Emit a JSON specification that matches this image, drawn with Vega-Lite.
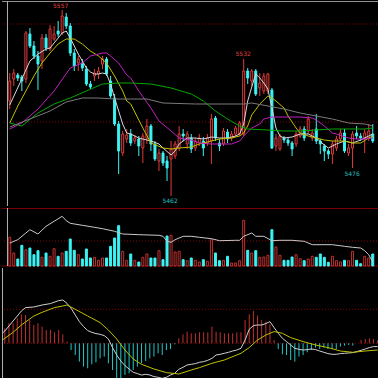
{
"$schema":"https://vega.github.io/schema/vega-lite/v6.json",
"background":"black",
"padding":0,
"spacing":0,
"config":{"view":{"stroke":null},"concat":{"spacing":0}},
"datasets":{
"k":[
{"i":0,"o":5509.5,"c":5519.5,"h":5523.5,"l":5505.5,"v":28.7},
{"i":1,"o":5520.5,"c":5523.5,"h":5525.5,"l":5517,"v":13},
{"i":2,"o":5522.5,"c":5521,"h":5523.5,"l":5519.5,"v":7},
{"i":3,"o":5521.5,"c":5519.5,"h":5522.5,"l":5514.5,"v":20.7},
{"i":4,"o":5520.5,"c":5543.5,"h":5544.5,"l":5518.5,"v":16.3},
{"i":5,"o":5543,"c":5537,"h":5546,"l":5536,"v":18},
{"i":6,"o":5537,"c":5532,"h":5539.5,"l":5530.5,"v":11.3},
{"i":7,"o":5532,"c":5528,"h":5534.5,"l":5515,"v":15.3},
{"i":8,"o":5529.5,"c":5541,"h":5543,"l":5525.5,"v":8.7},
{"i":9,"o":5541,"c":5536,"h":5543,"l":5534.5,"v":13},
{"i":10,"o":5535.5,"c":5545.5,"h":5547.5,"l":5534.5,"v":9.7},
{"i":11,"o":5540.5,"c":5543,"h":5547,"l":5539.5,"v":17.3},
{"i":12,"o":5544.5,"c":5543,"h":5549.5,"l":5541.5,"v":9.7},
{"i":13,"o":5543.5,"c":5552,"h":5555,"l":5542.5,"v":13},
{"i":14,"o":5551.5,"c":5547,"h":5553.5,"l":5545.5,"v":14.7},
{"i":15,"o":5547,"c":5533.5,"h":5548.5,"l":5532,"v":27},
{"i":16,"o":5533.5,"c":5527,"h":5535.5,"l":5524.5,"v":15.7},
{"i":17,"o":5528.5,"c":5530.5,"h":5532,"l":5524.5,"v":11.3},
{"i":18,"o":5528.5,"c":5526,"h":5530.5,"l":5524.5,"v":7},
{"i":19,"o":5525.5,"c":5518,"h":5527,"l":5517,"v":17},
{"i":20,"o":5518,"c":5516.5,"h":5519.5,"l":5515.5,"v":8},
{"i":21,"o":5522,"c":5523.5,"h":5525.5,"l":5519.5,"v":8.7},
{"i":22,"o":5523,"c":5524.5,"h":5526.5,"l":5520.5,"v":5.7},
{"i":23,"o":5528,"c":5530.5,"h":5532,"l":5525.5,"v":8},
{"i":24,"o":5530.5,"c":5523,"h":5531.5,"l":5522,"v":8},
{"i":25,"o":5519.5,"c":5512,"h":5522,"l":5511,"v":19.7},
{"i":26,"o":5511,"c":5498,"h":5513,"l":5497,"v":28},
{"i":27,"o":5498,"c":5484.5,"h":5499.5,"l":5473,"v":40.3},
{"i":28,"o":5483.5,"c":5493,"h":5494.5,"l":5482,"v":14.7},
{"i":29,"o":5490.5,"c":5492.5,"h":5495.5,"l":5488.5,"v":5.7},
{"i":30,"o":5493,"c":5488.5,"h":5495.5,"l":5487,"v":12},
{"i":31,"o":5489.5,"c":5491,"h":5492.5,"l":5488,"v":5.7},
{"i":32,"o":5490.5,"c":5487,"h":5492,"l":5482,"v":4},
{"i":33,"o":5486,"c":5492,"h":5493.5,"l":5478.5,"v":8.7},
{"i":34,"o":5491,"c":5497,"h":5500.5,"l":5488,"v":12},
{"i":35,"o":5497,"c":5488,"h":5498,"l":5484.5,"v":8},
{"i":36,"o":5488,"c":5480.5,"h":5489.5,"l":5479.5,"v":8},
{"i":37,"o":5479.5,"c":5483.5,"h":5485.5,"l":5474.5,"v":15.3},
{"i":38,"o":5483.5,"c":5478.5,"h":5484.5,"l":5477,"v":6.3},
{"i":39,"o":5479.5,"c":5476,"h":5482,"l":5469.5,"v":30},
{"i":40,"o":5480.5,"c":5485.5,"h":5489.5,"l":5462,"v":30.7},
{"i":41,"o":5482,"c":5488,"h":5489.5,"l":5480.5,"v":14},
{"i":42,"o":5486,"c":5493,"h":5497,"l":5484.5,"v":14.7},
{"i":43,"o":5493,"c":5492,"h":5495.5,"l":5489.5,"v":6.3},
{"i":44,"o":5488,"c":5493,"h":5494.5,"l":5485.5,"v":5.3},
{"i":45,"o":5491,"c":5485.5,"h":5493,"l":5483.5,"v":8},
{"i":46,"o":5486,"c":5489.5,"h":5491,"l":5484.5,"v":5.7},
{"i":47,"o":5488.5,"c":5491,"h":5493,"l":5487,"v":4},
{"i":48,"o":5489.5,"c":5486,"h":5491.5,"l":5482,"v":6.3},
{"i":49,"o":5488.5,"c":5491,"h":5493,"l":5487,"v":4.7},
{"i":50,"o":5489.5,"c":5500.5,"h":5503,"l":5478,"v":26.3},
{"i":51,"o":5501,"c":5491,"h":5502,"l":5489.5,"v":13},
{"i":52,"o":5488.5,"c":5487,"h":5490.5,"l":5484.5,"v":5.3},
{"i":53,"o":5488,"c":5494.5,"h":5496,"l":5487,"v":5.7},
{"i":54,"o":5494,"c":5490.5,"h":5495.5,"l":5488.5,"v":9.7},
{"i":55,"o":5491,"c":5493,"h":5494.5,"l":5489.5,"v":3},
{"i":56,"o":5493,"c":5496,"h":5497,"l":5491.5,"v":3},
{"i":57,"o":5493,"c":5498.5,"h":5499.5,"l":5492,"v":5.3},
{"i":58,"o":5493,"c":5524.5,"h":5530.5,"l":5492,"v":45.7},
{"i":59,"o":5524.5,"c":5521,"h":5526,"l":5518,"v":15.7},
{"i":60,"o":5519.5,"c":5524.5,"h":5525.5,"l":5517,"v":13},
{"i":61,"o":5524.5,"c":5513,"h":5525.5,"l":5512,"v":15.3},
{"i":62,"o":5516,"c":5518.5,"h":5523.5,"l":5512,"v":8.7},
{"i":63,"o":5514.5,"c":5522,"h":5523.5,"l":5513,"v":9},
{"i":64,"o":5514.5,"c":5523,"h":5523.5,"l":5513,"v":10.7},
{"i":65,"o":5515,"c":5486,"h":5516,"l":5485.5,"v":36.3},
{"i":66,"o":5487,"c":5491,"h":5493,"l":5484.5,"v":19},
{"i":67,"o":5485.5,"c":5492,"h":5493,"l":5484.5,"v":10.7},
{"i":68,"o":5491,"c":5490,"h":5492,"l":5488.5,"v":5.7},
{"i":69,"o":5490,"c":5488.5,"h":5491,"l":5487,"v":5.7},
{"i":70,"o":5488.5,"c":5485.5,"h":5489.5,"l":5482,"v":9},
{"i":71,"o":5488,"c":5493,"h":5494.5,"l":5486.5,"v":11.3},
{"i":72,"o":5492,"c":5495.5,"h":5497,"l":5491,"v":7.3},
{"i":73,"o":5495.5,"c":5491,"h":5497,"l":5489.5,"v":5.3},
{"i":74,"o":5494.5,"c":5500.5,"h":5502,"l":5493,"v":7},
{"i":75,"o":5491,"c":5493.5,"h":5495.5,"l":5489.5,"v":9.7},
{"i":76,"o":5495.5,"c":5489.5,"h":5503,"l":5488,"v":8.7},
{"i":77,"o":5489.5,"c":5488,"h":5490.5,"l":5483,"v":12},
{"i":78,"o":5487,"c":5484.5,"h":5488,"l":5479.5,"v":8.7},
{"i":79,"o":5484.5,"c":5483,"h":5485.5,"l":5480.5,"v":3.7},
{"i":80,"o":5483,"c":5488,"h":5489.5,"l":5478,"v":9.7},
{"i":81,"o":5486,"c":5490.5,"h":5492,"l":5484.5,"v":5.3},
{"i":82,"o":5490.5,"c":5493.5,"h":5495.5,"l":5489.5,"v":4},
{"i":83,"o":5493.5,"c":5484.5,"h":5495.5,"l":5483.5,"v":5.7},
{"i":84,"o":5483.5,"c":5486,"h":5488,"l":5482,"v":5.3},
{"i":85,"o":5486,"c":5493,"h":5494.5,"l":5476,"v":14.7},
{"i":86,"o":5493.5,"c":5492,"h":5497,"l":5490.5,"v":5.7},
{"i":87,"o":5492,"c":5491,"h":5493.5,"l":5489.5,"v":2.3},
{"i":88,"o":5491,"c":5493.5,"h":5495.5,"l":5483.5,"v":9.7},
{"i":89,"o":5491,"c":5494.5,"h":5498,"l":5489.5,"v":8},
{"i":90,"o":5493,"c":5489.5,"h":5498,"l":5488.5,"v":12}
],
"ma":[
{"i":0,"k":"MA5","v":5507.5},{"i":3,"k":"MA5","v":5520.5},{"i":5,"k":"MA5","v":5529.5},{"i":7,"k":"MA5","v":5533},{"i":9,"k":"MA5","v":5535.5},{"i":10,"k":"MA5","v":5536},{"i":12,"k":"MA5","v":5541},{"i":13,"k":"MA5","v":5543.5},{"i":14,"k":"MA5","v":5544.5},{"i":15,"k":"MA5","v":5541},{"i":16,"k":"MA5","v":5537},{"i":17,"k":"MA5","v":5533},{"i":18,"k":"MA5","v":5529.5},{"i":19,"k":"MA5","v":5526},{"i":20,"k":"MA5","v":5524},{"i":21,"k":"MA5","v":5523},{"i":22,"k":"MA5","v":5523},{"i":23,"k":"MA5","v":5523.5},{"i":24,"k":"MA5","v":5523},{"i":25,"k":"MA5","v":5518},{"i":26,"k":"MA5","v":5511},{"i":27,"k":"MA5","v":5504.5},{"i":28,"k":"MA5","v":5498},{"i":29,"k":"MA5","v":5493.5},{"i":30,"k":"MA5","v":5493},{"i":32,"k":"MA5","v":5491},{"i":35,"k":"MA5","v":5489.5},{"i":37,"k":"MA5","v":5488},{"i":38,"k":"MA5","v":5486},{"i":40,"k":"MA5","v":5482.5},{"i":41,"k":"MA5","v":5484.5},{"i":42,"k":"MA5","v":5488},{"i":44,"k":"MA5","v":5491},{"i":46,"k":"MA5","v":5491},{"i":48,"k":"MA5","v":5490.5},{"i":50,"k":"MA5","v":5491.5},{"i":52,"k":"MA5","v":5491},{"i":54,"k":"MA5","v":5491},{"i":56,"k":"MA5","v":5492},{"i":57,"k":"MA5","v":5493},{"i":58,"k":"MA5","v":5498},{"i":59,"k":"MA5","v":5509.5},{"i":60,"k":"MA5","v":5516.5},{"i":61,"k":"MA5","v":5523},{"i":62,"k":"MA5","v":5521},{"i":63,"k":"MA5","v":5518.5},{"i":64,"k":"MA5","v":5515.5},{"i":65,"k":"MA5","v":5506},{"i":66,"k":"MA5","v":5496},{"i":67,"k":"MA5","v":5492},{"i":68,"k":"MA5","v":5491},{"i":70,"k":"MA5","v":5491.5},{"i":72,"k":"MA5","v":5493},{"i":74,"k":"MA5","v":5493},{"i":76,"k":"MA5","v":5491},{"i":78,"k":"MA5","v":5487.5},{"i":79,"k":"MA5","v":5486},{"i":81,"k":"MA5","v":5488},{"i":83,"k":"MA5","v":5489.5},{"i":85,"k":"MA5","v":5488.5},{"i":87,"k":"MA5","v":5490},{"i":89,"k":"MA5","v":5492},{"i":90,"k":"MA5","v":5493},
{"i":0,"k":"MA10","v":5498.5},{"i":2,"k":"MA10","v":5507},{"i":4,"k":"MA10","v":5514.5},{"i":6,"k":"MA10","v":5522},{"i":8,"k":"MA10","v":5528.5},{"i":10,"k":"MA10","v":5533.5},{"i":12,"k":"MA10","v":5538},{"i":14,"k":"MA10","v":5540.5},{"i":16,"k":"MA10","v":5540.5},{"i":18,"k":"MA10","v":5538},{"i":20,"k":"MA10","v":5534.5},{"i":22,"k":"MA10","v":5532},{"i":24,"k":"MA10","v":5528.5},{"i":26,"k":"MA10","v":5522},{"i":28,"k":"MA10","v":5514.5},{"i":29,"k":"MA10","v":5509.5},{"i":30,"k":"MA10","v":5508},{"i":33,"k":"MA10","v":5496},{"i":35,"k":"MA10","v":5488.5},{"i":38,"k":"MA10","v":5486},{"i":40,"k":"MA10","v":5485.5},{"i":42,"k":"MA10","v":5486},{"i":45,"k":"MA10","v":5486.5},{"i":47,"k":"MA10","v":5488},{"i":50,"k":"MA10","v":5489.5},{"i":52,"k":"MA10","v":5490.5},{"i":55,"k":"MA10","v":5491},{"i":57,"k":"MA10","v":5492},{"i":58,"k":"MA10","v":5493.5},{"i":59,"k":"MA10","v":5497},{"i":60,"k":"MA10","v":5502.5},{"i":62,"k":"MA10","v":5508},{"i":64,"k":"MA10","v":5512},{"i":65,"k":"MA10","v":5511},{"i":66,"k":"MA10","v":5509.5},{"i":68,"k":"MA10","v":5506},{"i":69,"k":"MA10","v":5502},{"i":71,"k":"MA10","v":5496},{"i":72,"k":"MA10","v":5493.5},{"i":74,"k":"MA10","v":5492},{"i":76,"k":"MA10","v":5491},{"i":78,"k":"MA10","v":5490},{"i":80,"k":"MA10","v":5489.5},{"i":83,"k":"MA10","v":5489.5},{"i":85,"k":"MA10","v":5488.5},{"i":87,"k":"MA10","v":5488.5},{"i":89,"k":"MA10","v":5491},{"i":90,"k":"MA10","v":5492},
{"i":0,"k":"MA20","v":5495.5},{"i":3,"k":"MA20","v":5498.5},{"i":7,"k":"MA20","v":5505.5},{"i":11,"k":"MA20","v":5514.5},{"i":15,"k":"MA20","v":5526},{"i":18,"k":"MA20","v":5528.5},{"i":20,"k":"MA20","v":5532},{"i":23,"k":"MA20","v":5533.5},{"i":24,"k":"MA20","v":5533.5},{"i":25,"k":"MA20","v":5532},{"i":27,"k":"MA20","v":5528.5},{"i":28,"k":"MA20","v":5525.5},{"i":29,"k":"MA20","v":5522.5},{"i":30,"k":"MA20","v":5521},{"i":32,"k":"MA20","v":5514.5},{"i":35,"k":"MA20","v":5506},{"i":37,"k":"MA20","v":5499.5},{"i":40,"k":"MA20","v":5494.5},{"i":42,"k":"MA20","v":5491},{"i":45,"k":"MA20","v":5490},{"i":47,"k":"MA20","v":5488.5},{"i":50,"k":"MA20","v":5488},{"i":55,"k":"MA20","v":5488},{"i":57,"k":"MA20","v":5489.5},{"i":58,"k":"MA20","v":5492},{"i":60,"k":"MA20","v":5496},{"i":62,"k":"MA20","v":5498},{"i":63,"k":"MA20","v":5500.5},{"i":65,"k":"MA20","v":5501.5},{"i":72,"k":"MA20","v":5501.5},{"i":75,"k":"MA20","v":5501},{"i":76,"k":"MA20","v":5500},{"i":78,"k":"MA20","v":5497},{"i":80,"k":"MA20","v":5493.5},{"i":81,"k":"MA20","v":5493},{"i":84,"k":"MA20","v":5491},{"i":86,"k":"MA20","v":5490.5},{"i":88,"k":"MA20","v":5490.5},{"i":90,"k":"MA20","v":5491},
{"i":0,"k":"MA30","v":5498.5},{"i":3,"k":"MA30","v":5497},{"i":7,"k":"MA30","v":5503.5},{"i":11,"k":"MA30","v":5508},{"i":15,"k":"MA30","v":5511},{"i":19,"k":"MA30","v":5514.5},{"i":23,"k":"MA30","v":5518},{"i":27,"k":"MA30","v":5518.5},{"i":30,"k":"MA30","v":5518.5},{"i":35,"k":"MA30","v":5518},{"i":40,"k":"MA30","v":5516},{"i":45,"k":"MA30","v":5513},{"i":48,"k":"MA30","v":5509.5},{"i":51,"k":"MA30","v":5504.5},{"i":54,"k":"MA30","v":5500.5},{"i":57,"k":"MA30","v":5497},{"i":59,"k":"MA30","v":5495.5},{"i":64,"k":"MA30","v":5495},{"i":68,"k":"MA30","v":5494.5},{"i":72,"k":"MA30","v":5494.5},{"i":76,"k":"MA30","v":5495},{"i":80,"k":"MA30","v":5495.5},{"i":88,"k":"MA30","v":5495.5},{"i":90,"k":"MA30","v":5496},
{"i":0,"k":"MA60","v":5496.5},{"i":5,"k":"MA60","v":5500.5},{"i":10,"k":"MA60","v":5504.5},{"i":14,"k":"MA60","v":5509},{"i":18,"k":"MA60","v":5511},{"i":22,"k":"MA60","v":5511},{"i":26,"k":"MA60","v":5510.5},{"i":30,"k":"MA60","v":5510.5},{"i":34,"k":"MA60","v":5510.5},{"i":38,"k":"MA60","v":5508.5},{"i":46,"k":"MA60","v":5508},{"i":58,"k":"MA60","v":5508},{"i":60,"k":"MA60","v":5508.5},{"i":64,"k":"MA60","v":5507},{"i":68,"k":"MA60","v":5505.5},{"i":72,"k":"MA60","v":5503.5},{"i":76,"k":"MA60","v":5502},{"i":80,"k":"MA60","v":5500.5},{"i":84,"k":"MA60","v":5498.5},{"i":88,"k":"MA60","v":5498},{"i":90,"k":"MA60","v":5497}
],
"vma":[
{"i":0,"v":23},{"i":2,"v":26.3},{"i":4,"v":33},{"i":5,"v":36.3},{"i":7,"v":32},{"i":9,"v":39.7},{"i":11,"v":44.7},{"i":13,"v":49.7},{"i":14,"v":45.3},{"i":15,"v":42.7},{"i":18,"v":40.7},{"i":21,"v":38.7},{"i":23,"v":37.3},{"i":26,"v":34.7},{"i":28,"v":32},{"i":32,"v":31.3},{"i":37,"v":30.7},{"i":38,"v":29.7},{"i":39,"v":24.7},{"i":40,"v":23.7},{"i":41,"v":26.3},{"i":43,"v":29.7},{"i":45,"v":29.7},{"i":47,"v":28.7},{"i":50,"v":27.3},{"i":52,"v":25.3},{"i":56,"v":25.7},{"i":57,"v":25.7},{"i":58,"v":29.7},{"i":60,"v":33},{"i":61,"v":29.7},{"i":63,"v":29.7},{"i":65,"v":25.3},{"i":67,"v":25.7},{"i":70,"v":25.7},{"i":73,"v":24.7},{"i":75,"v":21.3},{"i":80,"v":21.3},{"i":83,"v":19.7},{"i":85,"v":18.7},{"i":87,"v":18},{"i":88,"v":15.3},{"i":89,"v":11.3},{"i":90,"v":4}
],
"hist":[
{"i":0,"m":15},{"i":1,"m":20},{"i":2,"m":20},{"i":3,"m":25},{"i":4,"m":29},{"i":5,"m":28.3},{"i":6,"m":23.3},{"i":7,"m":18.3},{"i":8,"m":20},{"i":9,"m":16.7},{"i":10,"m":13.3},{"i":11,"m":13.3},{"i":12,"m":11},{"i":13,"m":13.3},{"i":14,"m":9},{"i":15,"m":1.7},{"i":16,"m":-6.7},{"i":17,"m":-11.7},{"i":18,"m":-18.3},{"i":19,"m":-23.3},{"i":20,"m":-25},{"i":21,"m":-21},{"i":22,"m":-19},{"i":23,"m":-15},{"i":24,"m":-13.3},{"i":25,"m":-20},{"i":26,"m":-26.7},{"i":27,"m":-35},{"i":28,"m":-38.3},{"i":29,"m":-31.7},{"i":30,"m":-30},{"i":31,"m":-26.7},{"i":32,"m":-23.3},{"i":33,"m":-20},{"i":34,"m":-17.7},{"i":35,"m":-15},{"i":36,"m":-13.3},{"i":37,"m":-10},{"i":38,"m":-11.7},{"i":39,"m":-6.7},{"i":40,"m":-5.7},{"i":41,"m":-1},{"i":42,"m":5},{"i":43,"m":9},{"i":44,"m":11.7},{"i":45,"m":10},{"i":46,"m":10},{"i":47,"m":11},{"i":48,"m":11},{"i":49,"m":11},{"i":50,"m":16.7},{"i":51,"m":11.7},{"i":52,"m":11},{"i":53,"m":10},{"i":54,"m":10},{"i":55,"m":10},{"i":56,"m":11},{"i":57,"m":11},{"i":58,"m":23.3},{"i":59,"m":29},{"i":60,"m":32.3},{"i":61,"m":27.7},{"i":62,"m":23.3},{"i":63,"m":21.7},{"i":64,"m":19},{"i":65,"m":3.3},{"i":66,"m":-5.7},{"i":67,"m":-11},{"i":68,"m":-11.7},{"i":69,"m":-16.7},{"i":70,"m":-18.3},{"i":71,"m":-13.3},{"i":72,"m":-11.7},{"i":73,"m":-9},{"i":74,"m":-6.7},{"i":75,"m":-4.3},{"i":76,"m":-5.7},{"i":77,"m":-4.3},{"i":78,"m":-5.7},{"i":79,"m":-5.7},{"i":80,"m":-5.7},{"i":81,"m":-3.3},{"i":82,"m":-2.3},{"i":83,"m":-1.7},{"i":84,"m":-2.3},{"i":85,"m":0},{"i":86,"m":3.3},{"i":87,"m":4.3},{"i":88,"m":5},{"i":89,"m":4.3},{"i":90,"m":3}
],
"dif":[
{"i":-0.6,"d":10},{"i":0,"d":12.3},{"i":2,"d":22.3},{"i":4,"d":32.3},{"i":5,"d":35.7},{"i":7,"d":36.3},{"i":9,"d":38.3},{"i":11,"d":39.7},{"i":13,"d":42.7},{"i":14,"d":43.3},{"i":15,"d":40},{"i":16,"d":35},{"i":17,"d":28.3},{"i":18,"d":21.7},{"i":19,"d":16.7},{"i":20,"d":12.7},{"i":21,"d":11},{"i":22,"d":9.7},{"i":23,"d":9},{"i":24,"d":7.7},{"i":25,"d":4.3},{"i":26,"d":-4.3},{"i":27,"d":-11.7},{"i":28,"d":-17.7},{"i":29,"d":-22.3},{"i":30,"d":-25.7},{"i":31,"d":-29},{"i":32,"d":-30.3},{"i":33,"d":-31.7},{"i":34,"d":-31},{"i":35,"d":-31.7},{"i":36,"d":-33.3},{"i":37,"d":-34},{"i":38,"d":-35},{"i":39,"d":-34},{"i":40,"d":-31.7},{"i":41,"d":-30},{"i":42,"d":-26},{"i":43,"d":-24},{"i":44,"d":-21.7},{"i":45,"d":-21},{"i":46,"d":-20.3},{"i":47,"d":-19},{"i":48,"d":-18.3},{"i":49,"d":-17},{"i":50,"d":-15},{"i":51,"d":-11.7},{"i":52,"d":-11},{"i":53,"d":-10},{"i":54,"d":-9},{"i":55,"d":-7.7},{"i":56,"d":-6.7},{"i":57,"d":-5},{"i":58,"d":3.3},{"i":59,"d":14},{"i":60,"d":17.7},{"i":61,"d":18.3},{"i":62,"d":18.3},{"i":63,"d":19.7},{"i":64,"d":21.7},{"i":65,"d":15.7},{"i":66,"d":10},{"i":67,"d":5},{"i":68,"d":1.7},{"i":69,"d":-1.7},{"i":70,"d":-5},{"i":71,"d":-6},{"i":72,"d":-6.7},{"i":73,"d":-6.3},{"i":74,"d":-5.7},{"i":75,"d":-6.3},{"i":76,"d":-7.7},{"i":77,"d":-9},{"i":78,"d":-10.3},{"i":79,"d":-11},{"i":80,"d":-11},{"i":81,"d":-10.3},{"i":82,"d":-10},{"i":83,"d":-9.7},{"i":84,"d":-9.3},{"i":85,"d":-8.3},{"i":86,"d":-7},{"i":87,"d":-5.7},{"i":88,"d":-4.3},{"i":89,"d":-3.3},{"i":90,"d":-3.3}
],
"dea":[
{"i":-0.6,"d":3.3},{"i":0,"d":5},{"i":2,"d":11},{"i":4,"d":18.3},{"i":7,"d":27.3},{"i":9,"d":31},{"i":12,"d":35.7},{"i":14,"d":37.3},{"i":15,"d":38.3},{"i":17,"d":34},{"i":20,"d":27.3},{"i":23,"d":20.7},{"i":25,"d":13.3},{"i":27,"d":4.3},{"i":29,"d":-6.7},{"i":31,"d":-15.7},{"i":33,"d":-21},{"i":36,"d":-25.7},{"i":39,"d":-29.3},{"i":42,"d":-30.7},{"i":45,"d":-26.7},{"i":47,"d":-24.3},{"i":50,"d":-20},{"i":53,"d":-16.7},{"i":57,"d":-10},{"i":59,"d":-4.3},{"i":61,"d":3.3},{"i":63,"d":8.3},{"i":65,"d":11.7},{"i":67,"d":10},{"i":69,"d":5.7},{"i":72,"d":1.7},{"i":75,"d":-1.7},{"i":78,"d":-4.3},{"i":81,"d":-7.7},{"i":84,"d":-9},{"i":87,"d":-7.7},{"i":90,"d":-6.7}
]
},
"vconcat":[
{
"width":378,"height":205,
"layer":[
{"data":{"values":[{"p":5548},{"p":5499}]},"mark":{"type":"rule","strokeDash":[1,2],"color":"#8a0000","strokeWidth":1},
 "encoding":{"y":{"field":"p","type":"quantitative","scale":{"domain":[5457,5559.5],"zero":false,"nice":false},"axis":null}}},
{"data":{"values":[{"p":5559.25}]},"mark":{"type":"rule","color":"#909090","strokeWidth":1},
 "encoding":{"y":{"field":"p","type":"quantitative","scale":{"domain":[5457,5559.5],"zero":false,"nice":false},"axis":null}}},
{"data":{"name":"k"},"mark":{"type":"rule","strokeWidth":1},
 "encoding":{"x":{"field":"i","type":"quantitative","scale":{"domain":[-0.68,90.56],"nice":false,"zero":false},"axis":null},
  "y":{"field":"l","type":"quantitative","scale":{"domain":[5457,5559.5],"zero":false,"nice":false},"axis":null},
  "y2":{"field":"h"},
  "color":{"condition":{"test":"datum.c >= datum.o","value":"#e03a3a"},"value":"#3cf4f4"}}},
{"data":{"name":"k"},"mark":{"type":"bar","size":2,"strokeWidth":1},
 "encoding":{"x":{"field":"i","type":"quantitative","scale":{"domain":[-0.68,90.56],"nice":false,"zero":false},"axis":null},
  "y":{"field":"o","type":"quantitative","scale":{"domain":[5457,5559.5],"zero":false,"nice":false},"axis":null},
  "y2":{"field":"c"},
  "fill":{"condition":{"test":"datum.c >= datum.o","value":"#000000"},"value":"#3cf4f4"},
  "stroke":{"condition":{"test":"datum.c >= datum.o","value":"#e03a3a"},"value":"#3cf4f4"}}},
{"data":{"name":"ma"},"mark":{"type":"line","strokeWidth":1,"interpolate":"linear"},
 "encoding":{"x":{"field":"i","type":"quantitative","scale":{"domain":[-0.68,90.56],"nice":false,"zero":false},"axis":null},
  "y":{"field":"v","type":"quantitative","scale":{"domain":[5457,5559.5],"zero":false,"nice":false},"axis":null},
  "color":{"field":"k","type":"nominal","scale":{"domain":["MA5","MA10","MA20","MA30","MA60"],"range":["#d8d8d8","#c0c000","#c020c0","#00a800","#7a7a7a"]},"legend":null},
  "order":{"field":"i","type":"quantitative"}}},
{"data":{"values":[{"i":13,"p":5555,"t":"5557"}]},"mark":{"type":"text","font":"DejaVu Sans","fontSize":6,"color":"#e04040","baseline":"alphabetic","dy":-2,"dx":-1.5},
 "encoding":{"x":{"field":"i","type":"quantitative","scale":{"domain":[-0.68,90.56],"nice":false,"zero":false},"axis":null},
  "y":{"field":"p","type":"quantitative","scale":{"domain":[5457,5559.5],"zero":false,"nice":false},"axis":null},"text":{"field":"t"}}},
{"data":{"values":[{"i":58,"p":5530.5,"t":"5532"}]},"mark":{"type":"text","font":"DejaVu Sans","fontSize":6,"color":"#e04040","baseline":"alphabetic","dy":-3,"dx":-0.5},
 "encoding":{"x":{"field":"i","type":"quantitative","scale":{"domain":[-0.68,90.56],"nice":false,"zero":false},"axis":null},
  "y":{"field":"p","type":"quantitative","scale":{"domain":[5457,5559.5],"zero":false,"nice":false},"axis":null},"text":{"field":"t"}}},
{"data":{"values":[{"i":40,"p":5462,"t":"5462"}]},"mark":{"type":"text","font":"DejaVu Sans","fontSize":6,"color":"#20c0c0","baseline":"alphabetic","dy":6.7,"dx":-1},
 "encoding":{"x":{"field":"i","type":"quantitative","scale":{"domain":[-0.68,90.56],"nice":false,"zero":false},"axis":null},
  "y":{"field":"p","type":"quantitative","scale":{"domain":[5457,5559.5],"zero":false,"nice":false},"axis":null},"text":{"field":"t"}}},
{"data":{"values":[{"i":85,"p":5476,"t":"5476"}]},"mark":{"type":"text","font":"DejaVu Sans","fontSize":6,"color":"#20c0c0","baseline":"alphabetic","dy":8,"dx":-0.5},
 "encoding":{"x":{"field":"i","type":"quantitative","scale":{"domain":[-0.68,90.56],"nice":false,"zero":false},"axis":null},
  "y":{"field":"p","type":"quantitative","scale":{"domain":[5457,5559.5],"zero":false,"nice":false},"axis":null},"text":{"field":"t"}}},
{"data":{"values":[{"i":-0.56}]},"mark":{"type":"rule","color":"#b0b0b0","strokeWidth":1},
 "encoding":{"x":{"field":"i","type":"quantitative","scale":{"domain":[-0.68,90.56],"nice":false,"zero":false},"axis":null}}}
]
},
{
"width":378,"height":58,
"layer":[
{"data":{"values":[{"q":25}]},"mark":{"type":"rule","strokeDash":[1,2],"color":"#8a0000","strokeWidth":1},
 "encoding":{"y":{"field":"q","type":"quantitative","scale":{"domain":[0,58],"nice":false},"axis":null}}},
{"data":{"values":[{"q":57.5},{"q":0}]},"mark":{"type":"rule","color":"#7a0000","strokeWidth":1},
 "encoding":{"y":{"field":"q","type":"quantitative","scale":{"domain":[0,58],"nice":false},"axis":null}}},
{"data":{"name":"k"},"mark":{"type":"bar","size":2,"strokeWidth":1},
 "encoding":{"x":{"field":"i","type":"quantitative","scale":{"domain":[-0.68,90.56],"nice":false,"zero":false},"axis":null},
  "y":{"field":"v","type":"quantitative","scale":{"domain":[0,58],"nice":false},"axis":null},
  "fill":{"condition":{"test":"datum.c >= datum.o","value":"#000000"},"value":"#3cf4f4"},
  "stroke":{"condition":{"test":"datum.c >= datum.o","value":"#c03030"},"value":"#3cf4f4"}}},
{"data":{"name":"vma"},"mark":{"type":"line","strokeWidth":1,"color":"#c8c8c8"},
 "encoding":{"x":{"field":"i","type":"quantitative","scale":{"domain":[-0.68,90.56],"nice":false,"zero":false},"axis":null},
  "y":{"field":"v","type":"quantitative","scale":{"domain":[0,58],"nice":false},"axis":null}}},
{"data":{"values":[{"i":-0.56}]},"mark":{"type":"rule","color":"#b0b0b0","strokeWidth":1},
 "encoding":{"x":{"field":"i","type":"quantitative","scale":{"domain":[-0.68,90.56],"nice":false,"zero":false},"axis":null}}}
]
},
{
"width":378,"height":115,
"layer":[
{"data":{"values":[{"q":0},{"q":34}]},"mark":{"type":"rule","strokeDash":[1,2],"color":"#8a0000","strokeWidth":1},
 "encoding":{"y":{"field":"q","type":"quantitative","scale":{"domain":[-39.7,75.3],"nice":false,"zero":false},"axis":null}}},
{"data":{"name":"hist"},"mark":{"type":"rule","strokeWidth":1},
 "encoding":{"x":{"field":"i","type":"quantitative","scale":{"domain":[-0.68,90.56],"nice":false,"zero":false},"axis":null},
  "y":{"field":"m","type":"quantitative","scale":{"domain":[-39.7,75.3],"nice":false,"zero":false},"axis":null},
  "y2":{"datum":0},
  "color":{"condition":{"test":"datum.m >= 0","value":"#c03030"},"value":"#20c8c8"}}},
{"data":{"name":"dif"},"mark":{"type":"line","strokeWidth":1,"color":"#d0d0d0"},
 "encoding":{"x":{"field":"i","type":"quantitative","scale":{"domain":[-0.68,90.56],"nice":false,"zero":false},"axis":null},
  "y":{"field":"d","type":"quantitative","scale":{"domain":[-39.7,75.3],"nice":false,"zero":false},"axis":null}}},
{"data":{"name":"dea"},"mark":{"type":"line","strokeWidth":1,"color":"#c0c000"},
 "encoding":{"x":{"field":"i","type":"quantitative","scale":{"domain":[-0.68,90.56],"nice":false,"zero":false},"axis":null},
  "y":{"field":"d","type":"quantitative","scale":{"domain":[-39.7,75.3],"nice":false,"zero":false},"axis":null}}},
{"data":{"values":[{"i":-0.56}]},"mark":{"type":"rule","color":"#b0b0b0","strokeWidth":1},
 "encoding":{"x":{"field":"i","type":"quantitative","scale":{"domain":[-0.68,90.56],"nice":false,"zero":false},"axis":null}}}
]
}
]
}
